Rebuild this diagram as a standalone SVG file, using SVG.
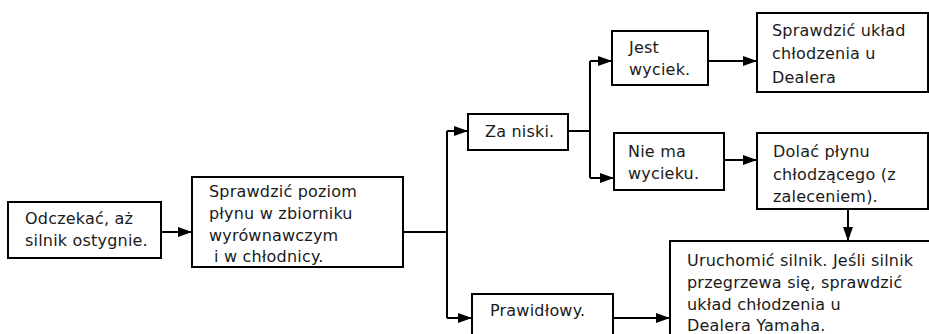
<svg xmlns="http://www.w3.org/2000/svg" width="929" height="334" viewBox="0 0 929 334">
  <style>
    .box { fill: #ffffff; stroke: #000000; stroke-width: 2; }
    .lbl { font-family: "DejaVu Sans", "Liberation Sans", sans-serif; font-size: 16px; letter-spacing: 0.2px; fill: #1a1a1a; }
    .wire { fill: none; stroke: #000000; stroke-width: 2; }
  </style>
  <defs>
    <marker id="arrow" viewBox="0 0 14 10" refX="14" refY="5" markerWidth="14" markerHeight="10" markerUnits="userSpaceOnUse" orient="auto">
      <path d="M0,0 L14,5 L0,10 z" fill="#000000"/>
    </marker>
  </defs>
  <rect width="929" height="334" fill="#ffffff"/>

  <g id="connectors">
    <path class="wire" d="M161,232 H192" marker-end="url(#arrow)"/>
    <path class="wire" d="M403,232 H447"/>
    <path class="wire" d="M447,131 V318"/>
    <path class="wire" d="M447,131 H468" marker-end="url(#arrow)"/>
    <path class="wire" d="M447,318 H472" marker-end="url(#arrow)"/>
    <path class="wire" d="M568,131 H590"/>
    <path class="wire" d="M590,61 V178"/>
    <path class="wire" d="M590,61 H612" marker-end="url(#arrow)"/>
    <path class="wire" d="M590,178 H614" marker-end="url(#arrow)"/>
    <path class="wire" d="M708,61 H757" marker-end="url(#arrow)"/>
    <path class="wire" d="M724,160 H757" marker-end="url(#arrow)"/>
    <path class="wire" d="M848,209 V241" marker-end="url(#arrow)"/>
    <path class="wire" d="M613,318 H670" marker-end="url(#arrow)"/>
  </g>

  <g id="wait">
    <rect class="box" x="8" y="202" width="153" height="56"/>
    <text class="lbl" x="25" y="224">Odczekać, aż</text>
    <text class="lbl" x="25" y="246">silnik ostygnie.</text>
  </g>

  <g id="check-level">
    <rect class="box" x="192" y="177" width="211" height="90"/>
    <text class="lbl" x="209" y="197">Sprawdzić poziom</text>
    <text class="lbl" x="209" y="219">płynu w zbiorniku</text>
    <text class="lbl" x="209" y="241">wyrównawczym</text>
    <text class="lbl" x="214" y="262">i w chłodnicy.</text>
  </g>

  <g id="too-low">
    <rect class="box" x="468" y="114" width="100" height="36"/>
    <text class="lbl" x="485" y="137">Za niski.</text>
  </g>

  <g id="correct">
    <rect class="box" x="472" y="294" width="141" height="50"/>
    <text class="lbl" x="490" y="316">Prawidłowy.</text>
  </g>

  <g id="leak">
    <rect class="box" x="612" y="31" width="96" height="54"/>
    <text class="lbl" x="629" y="53">Jest</text>
    <text class="lbl" x="629" y="75">wyciek.</text>
  </g>

  <g id="no-leak">
    <rect class="box" x="614" y="133" width="110" height="57"/>
    <text class="lbl" x="628" y="157">Nie ma</text>
    <text class="lbl" x="628" y="179">wycieku.</text>
  </g>

  <g id="dealer-check">
    <rect class="box" x="757" y="13" width="171" height="79"/>
    <text class="lbl" x="772" y="36">Sprawdzić układ</text>
    <text class="lbl" x="772" y="59">chłodzenia u</text>
    <text class="lbl" x="772" y="83">Dealera</text>
  </g>

  <g id="top-up">
    <rect class="box" x="757" y="133" width="171" height="76"/>
    <text class="lbl" x="773" y="157">Dolać płynu</text>
    <text class="lbl" x="773" y="180">chłodzącego (z</text>
    <text class="lbl" x="773" y="202">zaleceniem).</text>
  </g>

  <g id="start-engine">
    <rect class="box" x="670" y="241" width="270" height="100"/>
    <text class="lbl" x="687" y="266">Uruchomić silnik. Jeśli silnik</text>
    <text class="lbl" x="687" y="288">przegrzewa się, sprawdzić</text>
    <text class="lbl" x="687" y="310">układ chłodzenia u</text>
    <text class="lbl" x="687" y="331">Dealera Yamaha.</text>
  </g>
</svg>
